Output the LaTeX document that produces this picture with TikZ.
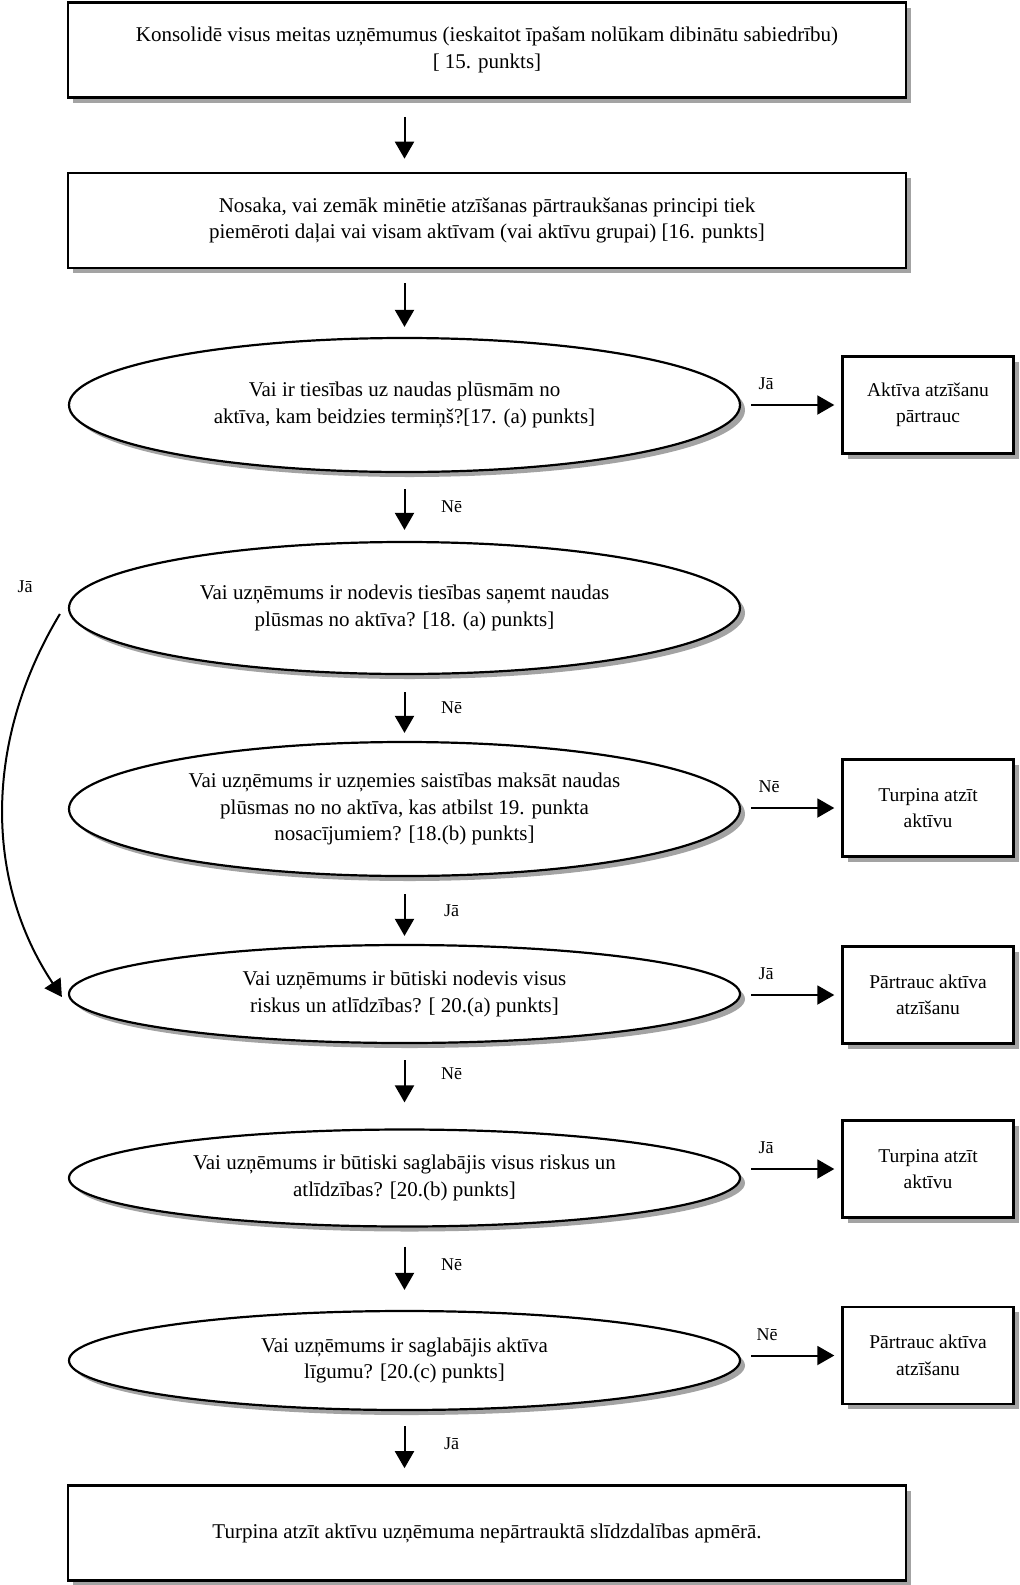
\documentclass[tikz,border=0pt]{standalone}
\usepackage{fontspec}
\setmainfont{Liberation Serif}
\usetikzlibrary{shapes.geometric,shadows,arrows.meta,calc}
\begin{document}
\begin{tikzpicture}[x=1pt,y=-1pt,
  shad/.style={drop shadow={shadow xshift=5pt,shadow yshift=-5pt,fill=black!45,opacity=0.8}},
  txt/.style={align=center,font=\fontsize{21}{26.5}\selectfont,inner sep=0pt},
  bigbox/.style={txt,draw,line width=2.6pt,fill=white,shad,minimum width=838pt,minimum height=95pt},
  smallbox/.style={txt,font=\fontsize{19.5}{26.5}\selectfont,draw,line width=2.4pt,fill=white,shad,minimum width=171pt,minimum height=97pt},
  question/.style={txt,ellipse,draw,line width=2.2pt,fill=white,shad,minimum width=671pt},
  arr/.style={line width=2pt,-{Triangle[length=17pt,width=19pt]}},
  lbl/.style={font=\fontsize{18}{20}\selectfont,inner sep=0pt}
]
\useasboundingbox (0,0) rectangle (1020,1585);

\node[bigbox] (b1) at (487,50) {Konsolidē visus meitas uzņēmumus (ieskaitot īpašam nolūkam dibinātu sabiedrību)\\ {[} 15. punkts]};
\node[bigbox] (b2) at (487,220.5) {Nosaka, vai zemāk minētie atzīšanas pārtraukšanas principi tiek\\ piemēroti daļai vai visam aktīvam (vai aktīvu grupai) [16. punkts]};

\node[question,minimum height=134pt] (e1) at (404.5,405) {Vai ir tiesības uz naudas plūsmām no\\ aktīva, kam beidzies termiņš?[17. (a) punkts]};
\node[smallbox] (r1) at (928,405) {Aktīva atzīšanu\\ pārtrauc};

\node[question,minimum height=132pt] (e2) at (404.5,608) {Vai uzņēmums ir nodevis tiesības saņemt naudas\\ plūsmas no aktīva? [18. (a) punkts]};

\node[question,minimum height=134pt] (e3) at (404.5,809) {Vai uzņēmums ir uzņemies saistības maksāt naudas\\ plūsmas no no aktīva, kas atbilst 19. punkta\\ nosacījumiem? [18.(b) punkts]};
\node[smallbox] (r2) at (928,808) {Turpina atzīt\\ aktīvu};

\node[question,minimum height=98pt] (e4) at (404.5,994) {Vai uzņēmums ir būtiski nodevis visus\\ riskus un atlīdzības? [ 20.(a) punkts]};
\node[smallbox] (r3) at (928,995) {Pārtrauc aktīva\\ atzīšanu};

\node[question,minimum height=97pt] (e5) at (404.5,1178) {Vai uzņēmums ir būtiski saglabājis visus riskus un\\ atlīdzības? [20.(b) punkts]};
\node[smallbox] (r4) at (928,1169) {Turpina atzīt\\ aktīvu};

\node[question,minimum height=99pt] (e6) at (404.5,1360.5) {Vai uzņēmums ir saglabājis aktīva\\ līgumu? [20.(c) punkts]};
\node[smallbox] (r5) at (928,1355.5) {Pārtrauc aktīva\\ atzīšanu};

\node[bigbox] (b3) at (487,1533) {Turpina atzīt aktīvu uzņēmuma nepārtrauktā slīdzdalības apmērā.};

% vertical arrows
\draw[arr,shorten <=18pt,shorten >=13pt] (b1.south -| e1.center) -- (b2.north -| e1.center);
\draw[arr,shorten <=14pt,shorten >=10pt] (b2.south -| e1.center) -- (e1.north);
\draw[arr,shorten <=16pt,shorten >=11pt] (e1.south) -- (e2.north) node[lbl,pos=0.5,xshift=47pt] {Nē};
\draw[arr,shorten <=17pt,shorten >=8pt] (e2.south) -- (e3.north) node[lbl,pos=0.5,xshift=47pt] {Nē};
\draw[arr,shorten <=17pt,shorten >=8pt] (e3.south) -- (e4.north) node[lbl,pos=0.5,xshift=47pt] {Jā};
\draw[arr,shorten <=16pt,shorten >=26pt] (e4.south) -- (e5.north) node[lbl,pos=0.35,xshift=47pt] {Nē};
\draw[arr,shorten <=19pt,shorten >=20pt] (e5.south) -- (e6.north) node[lbl,pos=0.45,xshift=47pt] {Nē};
\draw[arr,shorten <=15pt,shorten >=16pt] (e6.south) -- (b3.north -| e6.center) node[lbl,pos=0.45,xshift=47pt] {Jā};

% horizontal arrows
\draw[arr,shorten <=10pt,shorten >=7pt] (e1.east) -- (r1.west) node[lbl,pos=0.25,yshift=21pt] {Jā};
\draw[arr,shorten <=10pt,shorten >=7pt] (e3.east |- r2.west) -- (r2.west) node[lbl,pos=0.28,yshift=21pt] {Nē};
\draw[arr,shorten <=10pt,shorten >=7pt] (e4.east |- r3.west) -- (r3.west) node[lbl,pos=0.25,yshift=21pt] {Jā};
\draw[arr,shorten <=10pt,shorten >=7pt] (e5.east |- r4.west) -- (r4.west) node[lbl,pos=0.25,yshift=21pt] {Jā};
\draw[arr,shorten <=10pt,shorten >=7pt] (e6.east |- r5.west) -- (r5.west) node[lbl,pos=0.26,yshift=21pt] {Nē};

% curved arrow
\coordinate (cs) at ($(e2.west)+(-8,6)$);
\coordinate (ce) at ($(e4.west)+(-6,3)$);
\draw[arr] (cs) .. controls (-16,740) and (-16,880) .. (ce);
\node[lbl] (ja0) at (25,587) {Jā};
\end{tikzpicture}
\end{document}
